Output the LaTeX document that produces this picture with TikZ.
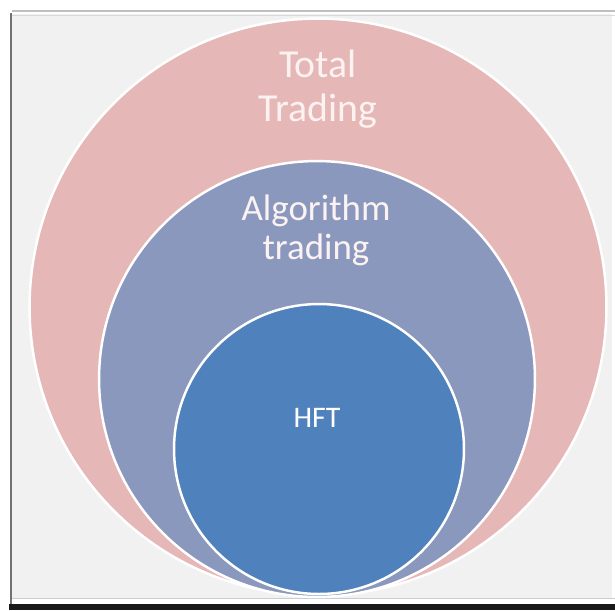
\documentclass[tikz,border=0pt]{standalone}
\usepackage{fontspec}
\setmainfont{Carlito}
\definecolor{tradepink}{RGB}{229,184,183}
\definecolor{algoblue}{RGB}{139,152,190}
\definecolor{hftblue}{RGB}{79,129,189}
\definecolor{framegray}{RGB}{241,241,241}
\definecolor{labelwhite}{RGB}{253,242,242}
\usetikzlibrary{positioning}

\tikzset{
  ring/.style={circle, draw=white, line width=1.4pt, inner sep=0pt, outer sep=0pt},
  ringlabel/.style={align=center, text=labelwhite, anchor=base}
}

\begin{document}
\begin{tikzpicture}[x=0.02cm, y=-0.02cm]
        % Page and frame
        \useasboundingbox (0,0) rectangle (615,610);
        \fill[white] (0,0) rectangle (615,610);
        \fill[framegray] (12,14) rectangle (612,598);
        \draw[black!25, line width=0.8pt] (12,11) -- (615,11);
        \draw[black!15] (12,15) -- (615,15);
        \draw[black!55, line width=1.2pt] (11,13) -- (11,606);
        \draw[black!20] (12,598) -- (615,598);
        \fill[black!90] (9,604) rectangle (615,610);

        % Nested circles
        \node[ring, fill=tradepink, minimum size=11.54cm] (total) at (318,307) {};
        \node[ring, fill=algoblue, minimum size=8.72cm] (algo) at (317,379) {};
        \node[ring, fill=hftblue, minimum size=5.8cm] (hft) at (319,449) {};

        % Labels (base = last line)
        \node[ringlabel, font=\fontsize{22.6}{25}\selectfont] (totallbl) at (318,121) {Total\\Trading};
        \node[ringlabel, font=\fontsize{21}{22.2}\selectfont] (algolbl) at (316,259) {Algorithm\\trading};
        \node[ringlabel, text=white, font=\fontsize{17}{20}\selectfont] (hftlbl) at (317,427) {HFT};
      \end{tikzpicture}
\end{document}
